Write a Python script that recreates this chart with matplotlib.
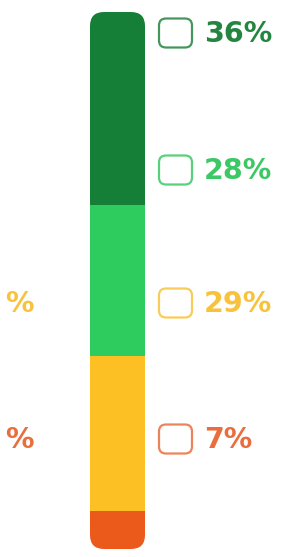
import matplotlib
matplotlib.use("Agg")
import matplotlib.pyplot as plt
from matplotlib.patches import FancyBboxPatch

# Data
categories = ["Very high", "High", "Medium", "Low"]
values = [36, 28, 29, 7]
bar_colors = ["#167f37", "#2ecc5e", "#fcbf24", "#ec5a1b"]
label_colors = ["#23853f", "#3cc864", "#f9c23c", "#ea6d3d"]
labels = [f"{v}%" for v in values]
left_clipped_labels = ["%", "%"]
left_clipped_colors = ["#f9c23c", "#ea6d3d"]

W, H = 285, 557
fig = plt.figure(figsize=(W / 100, H / 100), dpi=100)
fig.patch.set_facecolor("white")

# Bar axes: y in percent (0 bottom at px 549, 100 top at px 12)
bar_top_px, bar_bot_px = 12, 549
ax = fig.add_axes([0, 1 - bar_bot_px / H, 1, (bar_bot_px - bar_top_px) / H])
ax.set_xlim(0, W)
ax.set_ylim(0, 100)
ax.axis("off")

# Overlay axes in pixel coordinates (top-down)
ov = fig.add_axes([0, 0, 1, 1])
ov.set_xlim(0, W)
ov.set_ylim(H, 0)
ov.axis("off")

bar_x0, bar_w = 90, 55
bottom = 100.0
clip = FancyBboxPatch((bar_x0, bar_top_px), bar_w, bar_bot_px - bar_top_px,
                      boxstyle="round,pad=0,rounding_size=14",
                      transform=ov.transData, facecolor="none", edgecolor="none")
ov.add_patch(clip)
for v, c in zip(values, bar_colors):
    bottom -= v
    bars = ax.bar(bar_x0 + bar_w / 2, v, width=bar_w, bottom=bottom, color=c,
                  edgecolor="none", linewidth=0)
    for b in bars:
        b.set_clip_path(clip)

# Labels with checkboxes
label_y_px = [33, 170, 303, 439]
for lab, col, y in zip(labels, label_colors, label_y_px):
    box = FancyBboxPatch((159, y - 14.5), 33, 29,
                         boxstyle="round,pad=0,rounding_size=7",
                         facecolor="none", edgecolor=col, linewidth=1.6,
                         alpha=0.85)
    ov.add_patch(box)
    ov.text(204, y + 1, lab, color=col, fontsize=20.5, fontweight="heavy",
            family="DejaVu Sans", va="center", ha="left")

# Clipped labels on the left edge
for lab, col, y in zip(left_clipped_labels, left_clipped_colors, label_y_px[2:]):
    ov.text(34, y + 1, lab, color=col, fontsize=20.5, fontweight="heavy",
            family="DejaVu Sans", va="center", ha="right")

fig.savefig("out.png", dpi=100, facecolor="white")
